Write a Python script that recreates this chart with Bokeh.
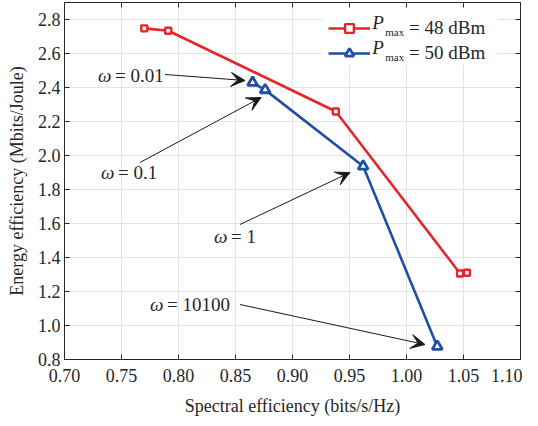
from bokeh.plotting import figure
from bokeh.models import (ColumnDataSource, Legend, LegendItem, LinearAxis, FixedTicker,
                          NumeralTickFormatter, Label, Arrow, VeeHead, Range1d, BoxAnnotation)
from bokeh.embed import file_html
from bokeh.resources import INLINE

# ---- data ----
se_48 = [0.770, 0.791, 0.938, 1.047, 1.053]
ee_48 = [2.748, 2.734, 2.259, 1.306, 1.310]
se_50 = [0.865, 0.876, 0.962, 1.027]
ee_50 = [2.429, 2.386, 1.937, 0.877]

x_ticks = [0.70, 0.75, 0.80, 0.85, 0.90, 0.95, 1.00, 1.05, 1.10]
y_ticks = [0.8, 1.0, 1.2, 1.4, 1.6, 1.8, 2.0, 2.2, 2.4, 2.6, 2.8]

series_labels = ["= 48 dBm", "= 50 dBm"]
omega_values = ["0.01", "0.1", "1", "10100"]
label_x = [0.7294, 0.7320, 0.8311, 0.7750]
label_y = [2.4706, 1.900, 1.5235, 1.1235]
arrow_x0 = [0.7882, 0.7662, 0.8539, 0.8539]
arrow_y0 = [2.4765, 1.9588, 1.5941, 1.1235]
arrow_x1 = [0.8583, 0.8724, 0.9504, 1.0162]
arrow_y1 = [2.4412, 2.3412, 1.9000, 0.8882]

# legend "P_max" text positions and legend background box (data units)
pmax_x = 0.9700
pmax_y = [2.7824, 2.6353]
sub_x = 0.9814
sub_y = [2.7265, 2.5794]
legend_box = dict(left=0.926, right=1.080, top=2.885, bottom=2.535)

FONT = "Liberation Serif"
TXT = "#262626"
RED = "#e8242b"
BLUE = "#1f4ea8"

p = figure(width=522, height=418,
           x_range=Range1d(0.70, 1.10), y_range=Range1d(0.8, 2.9),
           output_backend="svg", toolbar_location=None,
           min_border_left=64, min_border_right=2, min_border_top=2, min_border_bottom=59)

p.outline_line_color = TXT
p.outline_line_width = 1
p.background_fill_color = "white"
p.border_fill_color = "white"

p.xaxis.ticker = FixedTicker(ticks=x_ticks)
p.yaxis.ticker = FixedTicker(ticks=y_ticks)
p.xaxis.formatter = NumeralTickFormatter(format="0.00")
p.yaxis.formatter = NumeralTickFormatter(format="0.0")
p.xgrid.ticker = FixedTicker(ticks=x_ticks)
p.ygrid.ticker = FixedTicker(ticks=y_ticks)
p.grid.grid_line_color = "#e3e3e3"
p.grid.grid_line_width = 1

for ax in (p.xaxis[0], p.yaxis[0]):
    ax.major_tick_in = 5
    ax.major_tick_out = 0
    ax.minor_tick_line_color = None
    ax.axis_line_color = TXT
    ax.major_tick_line_color = TXT
    ax.major_label_text_font = FONT
    ax.major_label_text_font_size = "18px"
    ax.major_label_text_color = TXT
    ax.axis_label_text_font = FONT
    ax.axis_label_text_font_size = "18px"
    ax.axis_label_text_font_style = "normal"
    ax.axis_label_text_color = TXT

p.xaxis.axis_label = "Spectral efficiency (bits/s/Hz)"
p.yaxis.axis_label = "Energy efficiency (Mbits/Joule)"
p.xaxis.major_label_standoff = 9
p.xaxis.axis_label_standoff = 11
p.yaxis.major_label_standoff = 4
p.yaxis.axis_label_standoff = 8

for side, ticks in (("above", x_ticks), ("right", y_ticks)):
    ax = LinearAxis(ticker=FixedTicker(ticks=ticks))
    ax.major_tick_in = 5
    ax.major_tick_out = 0
    ax.minor_tick_line_color = None
    ax.axis_line_color = TXT
    ax.major_tick_line_color = TXT
    ax.major_label_text_font_size = "0px"
    ax.major_label_standoff = 0
    ax.major_label_text_color = None
    p.add_layout(ax, side)

# white patch behind the legend that hides the grid there
p.add_layout(BoxAnnotation(level="underlay", fill_color="white", fill_alpha=1,
                           line_color=None, **legend_box))

src48 = ColumnDataSource(dict(x=se_48, y=ee_48))
src50 = ColumnDataSource(dict(x=se_50, y=ee_50))

l48 = p.line("x", "y", source=src48, line_color=RED, line_width=2.6)
m48 = p.scatter("x", "y", source=src48, marker="square", size=6, line_color=RED,
                fill_color="white", line_width=2.4)
l50 = p.line("x", "y", source=src50, line_color=BLUE, line_width=2.6)
m50 = p.scatter("x", "y", source=src50, marker="triangle", size=10, line_color=BLUE,
                fill_color="white", line_width=2.8)

# annotation arrows and labels
arrow_src = ColumnDataSource(dict(x0=arrow_x0, y0=arrow_y0, x1=arrow_x1, y1=arrow_y1))
p.add_layout(Arrow(x_start="x0", y_start="y0", x_end="x1", y_end="y1", source=arrow_src,
                   line_color="#1a1a1a", line_width=1,
                   end=VeeHead(size=14, fill_color="#1a1a1a", line_color="#1a1a1a", line_width=1)))

for xv, yv, val in zip(label_x, label_y, omega_values):
    p.add_layout(Label(x=xv, y=yv, text="ω", text_font=FONT, text_font_size="19px",
                       text_font_style="italic", text_color=TXT, text_baseline="middle"))
    p.add_layout(Label(x=xv, y=yv, x_offset=17, text="= " + val, text_font=FONT,
                       text_font_size="19px", text_color=TXT, text_baseline="middle"))

legend = Legend(items=[LegendItem(label=series_labels[0], renderers=[l48, m48]),
                       LegendItem(label=series_labels[1], renderers=[l50, m50])],
                location=(264, 295))
legend.label_text_font = FONT
legend.label_text_font_size = "19px"
legend.label_text_color = TXT
legend.glyph_width = 42
legend.glyph_height = 22
legend.label_height = 22
legend.label_standoff = 39
legend.spacing = 3
legend.padding = 6
legend.margin = 0
legend.border_line_color = None
legend.background_fill_alpha = 0
p.add_layout(legend)

for py, sy in zip(pmax_y, sub_y):
    p.add_layout(Label(x=pmax_x, y=py, text="P",
                       text_font=FONT, text_font_size="19px", text_font_style="italic",
                       text_color=TXT, text_baseline="middle"))
    p.add_layout(Label(x=sub_x, y=sy, text="max",
                       text_font=FONT, text_font_size="11px",
                       text_color=TXT, text_baseline="middle"))

open("out.html", "w").write(file_html(p, INLINE))
